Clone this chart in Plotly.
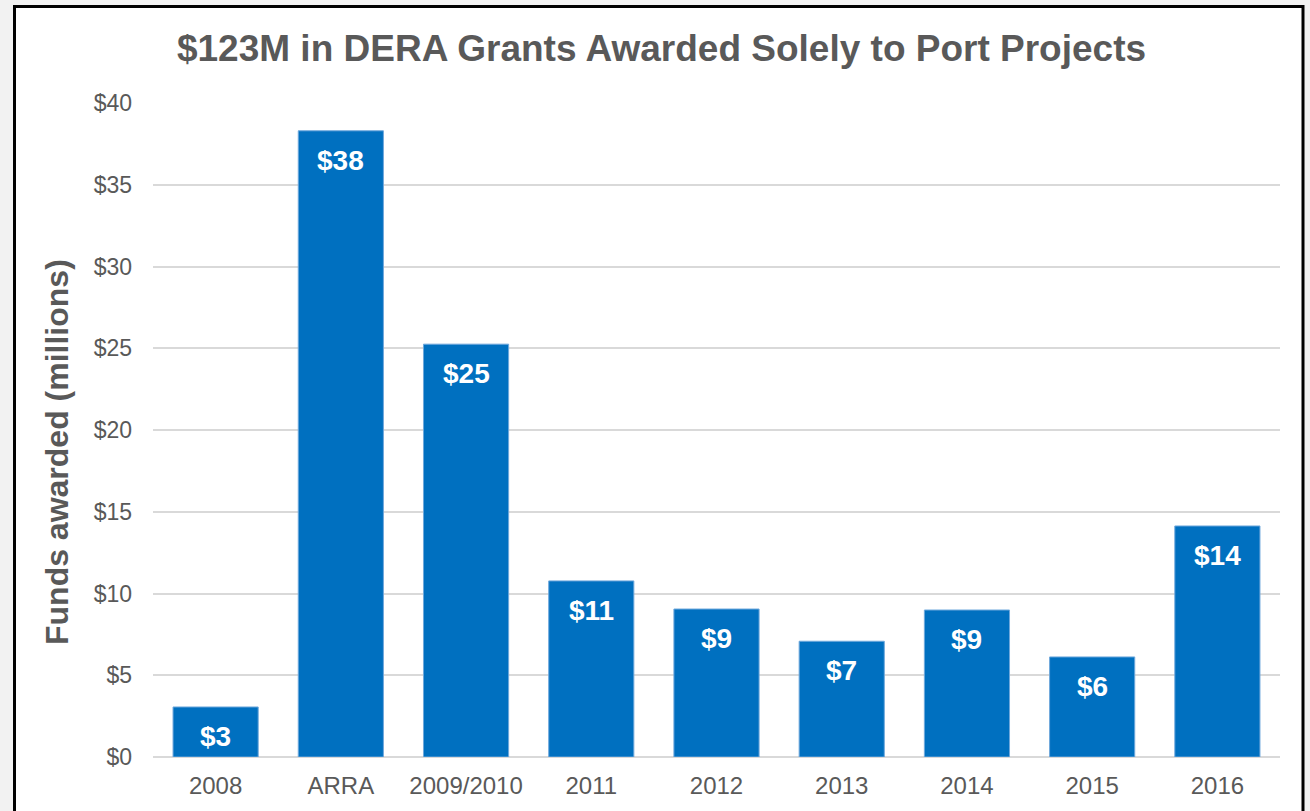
import plotly.graph_objects as go

categories = ["2008", "ARRA", "2009/2010", "2011", "2012", "2013", "2014", "2015", "2016"]
values = [3.06, 38.3, 25.25, 10.77, 9.05, 7.08, 8.99, 6.12, 14.13]
labels = ["$3", "$38", "$25", "$11", "$9", "$7", "$9", "$6", "$14"]
tick_vals = [0, 5, 10, 15, 20, 25, 30, 35, 40]
tick_text = ["$0", "$5", "$10", "$15", "$20", "$25", "$30", "$35", "$40"]

W, H = 1310, 811
L, R, T, B = 153, 30, 103, 54
pw, ph = W - L - R, H - T - B

def px(x):
    return (x - L) / pw

def py(y):
    return (H - B - y) / ph

fig = go.Figure()
fig.add_trace(go.Bar(
    x=categories, y=values,
    marker=dict(color="#0070C0", line=dict(color="#6fa8dc", width=1)),
    hoverinfo="skip",
))

for i, (v, t) in enumerate(zip(values, labels)):
    fig.add_annotation(
        x=i, y=v, text=t, showarrow=False, yanchor="top", yshift=-12,
        font=dict(family="Liberation Sans, Arial", size=28, color="white", weight="bold"),
    )

# y-axis title
fig.add_annotation(
    x=px(57), y=py(452), xref="paper", yref="paper", textangle=-90,
    text="<b>Funds awarded (millions)</b>", showarrow=False,
    xanchor="center", yanchor="middle",
    font=dict(family="Liberation Sans, Arial", size=32, color="#595959"),
)

fig.add_shape(
    type="rect", xref="paper", yref="paper",
    x0=px(14.5), x1=px(1303), y0=py(830), y1=py(6.5),
    fillcolor="white", line=dict(color="black", width=3), layer="below",
)

fig.update_layout(
    width=W, height=H,
    margin=dict(l=L, r=R, t=T, b=B, autoexpand=False),
    paper_bgcolor="#f2f2f2",
    plot_bgcolor="rgba(0,0,0,0)",
    bargap=0.32,
    showlegend=False,
    font=dict(family="Liberation Sans, Arial", color="#595959"),
    title=dict(
        text="<b>$123M in DERA Grants Awarded Solely to Port Projects</b>",
        x=661.5 / W, xref="container", xanchor="center",
        y=1 - 48 / H, yref="container", yanchor="middle",
        font=dict(size=37, color="#595959", family="Liberation Sans, Arial"),
    ),
    xaxis=dict(
        type="category", range=[-0.5, len(categories) - 0.5],
        showgrid=False, showline=False, ticks="", ticklabelstandoff=12,
        tickfont=dict(size=24, color="#595959"),
    ),
    yaxis=dict(
        range=[0, 40], tickvals=tick_vals, ticktext=tick_text,
        showgrid=True, gridcolor="#d9d9d9", gridwidth=1.5,
        zeroline=True, zerolinecolor="#d9d9d9", zerolinewidth=1.5,
        showline=False, ticks="", ticklen=0, ticklabelstandoff=20,
        tickfont=dict(size=23, color="#595959"),
    ),
)

fig.write_html(
    "out.html",
    config={"displayModeBar": False},
    post_script="document.body.style.margin='0';document.body.style.background='#f2f2f2';",
)
